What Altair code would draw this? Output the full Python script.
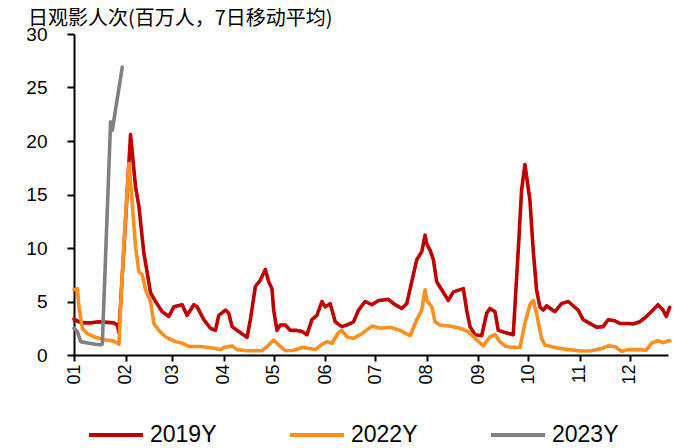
import json
import altair as alt
import pandas as pd

# ---- data (day-of-year, 0 = Jan 1; values in millions, 7-day MA) ----
days_2019 = [0, 3, 5, 10, 15, 20, 24, 26, 27, 34, 37, 39, 42, 44, 46, 49, 53, 57, 60, 65,
             68, 72, 74, 78, 82, 85, 87, 91, 93, 95, 99, 104, 106, 109, 112, 115, 117, 119, 120, 122,
             124, 127, 130, 134, 137, 140, 143, 146, 149, 151, 154, 157, 161, 164, 168, 171, 175, 179, 183, 189,
             192, 197, 200, 203, 206, 209, 211, 212, 214, 216, 218, 221, 225, 228, 234, 236, 238, 241, 245, 248,
             250, 253, 255, 259, 264, 267, 269, 271, 274, 276, 278, 280, 282, 284, 289, 293, 297, 303, 306, 310,
             314, 318, 321, 325, 328, 333, 336, 340, 344, 348, 351, 354, 356, 358]
vals_2019 = [3.35, 3.1, 3.0, 3.0, 3.1, 3.05, 3.0, 2.8, 2.1, 20.6, 15.7, 13.9, 9.5, 7.7, 5.8, 5.0, 4.05, 3.6, 4.5, 4.7,
             3.7, 4.7, 4.5, 3.3, 2.5, 2.3, 3.7, 4.2, 3.9, 2.65, 2.2, 1.65, 3.3, 6.4, 7.0, 8.0, 6.85, 6.2, 4.2, 2.3,
             2.8, 2.8, 2.3, 2.3, 2.2, 1.9, 3.3, 3.7, 5.0, 4.5, 4.8, 3.1, 2.65, 2.8, 3.1, 4.2, 5.0, 4.7, 5.1, 5.2,
             4.8, 4.35, 4.8, 6.85, 8.9, 9.65, 11.2, 10.4, 9.8, 8.9, 6.85, 6.1, 5.1, 5.9, 6.2, 4.2, 2.65, 1.9, 1.8, 3.9,
             4.35, 4.05, 2.3, 2.1, 1.9, 9.8, 15.4, 17.8, 14.5, 9.8, 6.1, 4.5, 4.2, 4.6, 4.05, 4.8, 5.0, 4.2, 3.3, 2.95,
             2.6, 2.65, 3.3, 3.2, 2.95, 2.95, 2.9, 3.1, 3.6, 4.2, 4.7, 4.2, 3.6, 4.45]

days_2022 = [0, 2, 3, 5, 8, 13, 19, 24, 27, 28, 30, 33, 35, 37, 39, 41, 43, 46, 48, 51,
             55, 61, 65, 69, 76, 85, 88, 90, 95, 98, 104, 113, 117, 120, 124, 127, 132, 137, 142, 145,
             149, 152, 155, 159, 161, 164, 168, 173, 179, 184, 190, 196, 202, 206, 209, 211, 212, 215, 217, 220,
             226, 232, 237, 242, 246, 250, 253, 256, 259, 262, 268, 271, 274, 276, 278, 281, 283, 289, 297, 305,
             311, 317, 321, 325, 329, 333, 339, 344, 347, 351, 354, 358]
vals_2022 = [6.1, 6.2, 4.5, 2.5, 2.0, 1.65, 1.4, 1.3, 1.0, 4.5, 10.4, 17.9, 14.2, 10.1, 7.8, 7.5, 6.1, 5.0, 2.95, 2.3,
             1.7, 1.25, 1.1, 0.8, 0.8, 0.6, 0.5, 0.7, 0.85, 0.5, 0.4, 0.4, 0.93, 1.4, 0.8, 0.4, 0.45, 0.7, 0.6, 0.5,
             1.0, 1.25, 1.1, 2.1, 2.3, 1.7, 1.55, 2.0, 2.7, 2.5, 2.6, 2.3, 1.8, 3.3, 4.2, 6.1, 5.1, 4.5, 3.1, 2.8,
             2.7, 2.5, 2.2, 1.4, 0.85, 1.7, 1.9, 1.25, 0.85, 0.75, 0.7, 2.95, 4.7, 5.1, 3.9, 1.55, 0.93, 0.7, 0.5, 0.37,
             0.4, 0.6, 0.85, 0.8, 0.35, 0.5, 0.5, 0.45, 1.1, 1.35, 1.15, 1.35]

days_2023 = [0, 2, 4, 9, 13, 16, 17, 22, 23, 29]
vals_2023 = [2.5, 2.2, 1.25, 1.1, 1.0, 0.95, 1.0, 21.8, 21.0, 26.9]

series_names = ["2019Y", "2022Y", "2023Y"]
series_colors = ["#C00000", "#FF9020", "#808080"]
month_starts = [0, 31, 59, 90, 120, 151, 181, 212, 243, 273, 304, 334]
month_labels = ["01", "02", "03", "04", "05", "06", "07", "08", "09", "10", "11", "12"]
y_ticks = [0, 5, 10, 15, 20, 25, 30]
title_text = "日观影人次(百万人，7日移动平均)"

rows = []
for name, ds, vs in zip(series_names, [days_2019, days_2022, days_2023], [vals_2019, vals_2022, vals_2023]):
    for d, v in zip(ds, vs):
        rows.append({"series": name, "day": d, "value": v})
df = pd.DataFrame(rows)

label_expr = "%s[indexof(%s, datum.value)]" % (json.dumps(month_labels), json.dumps(month_starts))

chart = alt.Chart(df).mark_line(strokeWidth=3.6, strokeJoin="round", strokeCap="round").encode(
    x=alt.X("day:Q",
            scale=alt.Scale(domain=[0, 357], nice=False, zero=False),
            axis=alt.Axis(values=month_starts, labelExpr=label_expr, labelAngle=270,
                          title=None, grid=False, domainColor="black", domainWidth=2,
                          tickColor="black", tickWidth=2, tickSize=6, labelFontSize=18,
                          labelFont="Liberation Sans", labelColor="black", labelPadding=3)),
    y=alt.Y("value:Q",
            scale=alt.Scale(domain=[0, 30], nice=False),
            axis=alt.Axis(values=y_ticks, title=None, grid=False, domainColor="black", domainWidth=2,
                          tickColor="black", tickWidth=2, tickSize=7, labelFontSize=19,
                          labelFont="Liberation Sans", labelColor="black", labelPadding=20)),
    color=alt.Color("series:N",
                    scale=alt.Scale(domain=series_names, range=series_colors),
                    legend=alt.Legend(orient="none", legendX=13, legendY=372, direction="horizontal",
                                      title=None, symbolType="stroke", symbolSize=2916,
                                      symbolStrokeWidth=4, labelFontSize=23, labelFont="Liberation Sans",
                                      labelColor="black", columnPadding=65, labelOffset=5)),
).properties(
    width=594,
    height=321,
    autosize=alt.AutoSizeParams(type="none"),
    padding={"left": 66, "top": 26, "right": 12, "bottom": 93},
    title=alt.TitleParams(text=title_text, anchor="start", frame="group", dx=-46, dy=16, offset=12,
                          font="Noto Sans CJK SC", fontSize=20, fontWeight="normal", color="black"),
).configure_view(stroke=None)

chart.save("out.html", embed_options={"renderer": "svg", "actions": False})
